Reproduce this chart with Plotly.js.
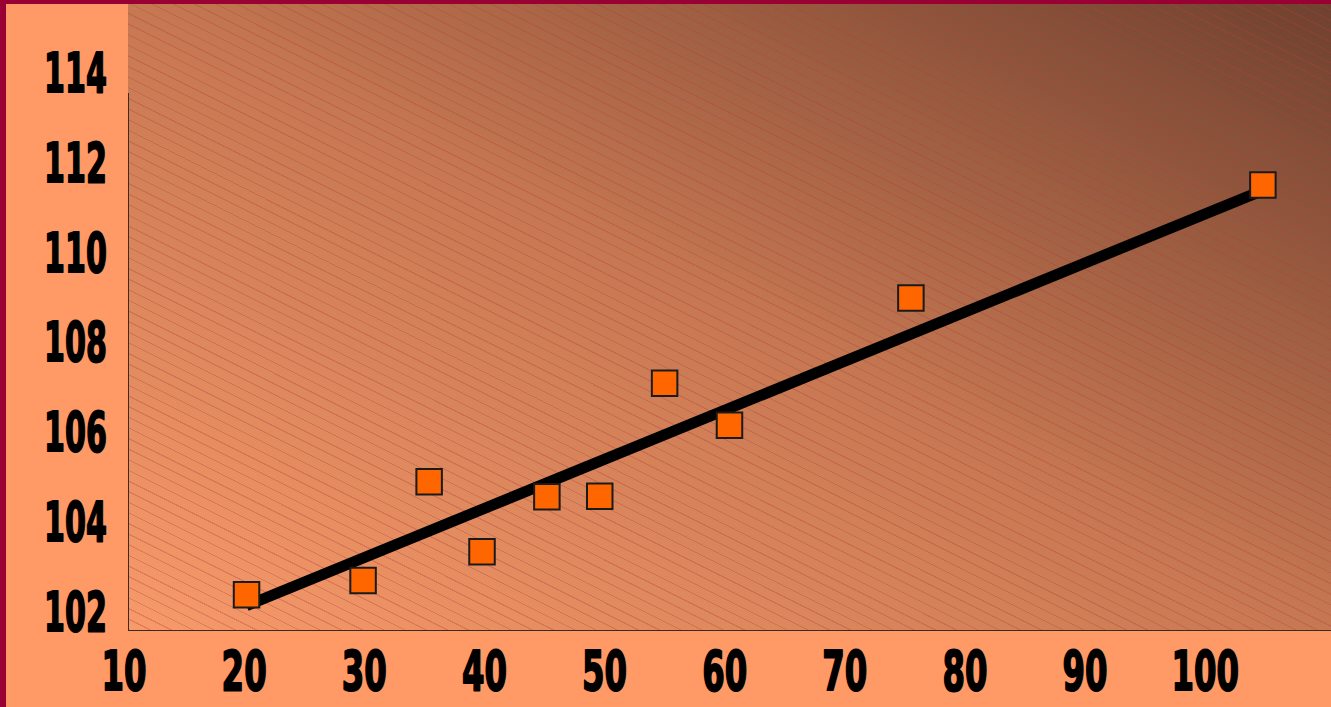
<!DOCTYPE html>
<html>
<head>
<meta charset="utf-8">
<script src="https://cdn.plot.ly/plotly-3.0.1.min.js"></script>
<style>
  html, body { margin: 0; padding: 0; background: #990033; overflow: hidden; }
  #wrap { position: relative; width: 1331px; height: 707px; background: #990033; }
  #paper { position: absolute; left: 6px; top: 4px; width: 1325px; height: 703px; background: #FF9966; }
  #plotbg { position: absolute; left: 128px; top: 4px; width: 1203px; height: 627px;
    background:
      repeating-linear-gradient(26.6deg, rgba(185,60,60,0.32) 0px, rgba(185,60,60,0.32) 1px, rgba(0,0,0,0) 1.2px, rgba(0,0,0,0) 9.5px),
      linear-gradient(to top right, #f89a6a 0%, #c67852 50%, #6f412f 100%);
    border-bottom: 1px solid #3b2a22; box-sizing: border-box; }
  #yline { position: absolute; left: 128px; top: 93px; width: 1px; height: 538px; background: #3b2a22; }
  #chart { position: absolute; left: 0; top: 0; width: 1331px; height: 707px; }
</style>
</head>
<body>
<div id="wrap">
  <div id="paper"></div>
  <div id="plotbg"></div>
  <div id="yline"></div>
  <div id="chart"></div>
</div>
<script>
const xValues = [20.2, 29.9, 35.4, 39.8, 45.2, 49.6, 55.0, 60.4, 75.5, 104.8];
const yValues = [102.36, 102.68, 104.88, 103.32, 104.55, 104.56, 107.08, 106.14, 108.98, 111.50];
// Trend line end points
const trendX = [20.2, 104.8];
const trendY = [102.12, 111.38];
// Axis tick labels
const xTicks = [10, 20, 30, 40, 50, 60, 70, 80, 90, 100];
const yTicks = [102, 104, 106, 108, 110, 112, 114];

const tickFont = { family: '"DejaVu Sans Condensed", "DejaVu Sans", sans-serif', size: 50, color: '#000000', weight: 'bold' };

const traces = [
  {
    x: trendX, y: trendY, type: 'scatter', mode: 'lines',
    line: { color: '#000000', width: 11 }, hoverinfo: 'skip', showlegend: false
  },
  {
    x: xValues, y: yValues, type: 'scatter', mode: 'markers',
    marker: { symbol: 'square', size: 25.5, color: '#FF6600', line: { color: '#1a1a1a', width: 2 } },
    showlegend: false
  }
];

const layout = {
  width: 1331, height: 707,
  margin: { l: 124, r: 0, t: 4, b: 76, pad: 0 },
  paper_bgcolor: 'rgba(0,0,0,0)',
  plot_bgcolor: 'rgba(0,0,0,0)',
  showlegend: false,
  xaxis: {
    range: [10, 110.47], tickmode: 'array', tickvals: xTicks, ticktext: xTicks.map(String),
    showgrid: false, zeroline: false, showline: false, ticks: '',
    ticklabelstandoff: 6, tickfont: tickFont, fixedrange: true
  },
  yaxis: {
    range: [101.554, 115.534], tickmode: 'array', tickvals: yTicks, ticktext: yTicks.map(String),
    showgrid: false, zeroline: false, showline: false, ticks: '',
    ticklabelstandoff: 16, tickfont: tickFont, fixedrange: true
  }
};

// Condense tick labels to imitate a heavy narrow display face
function condense(selector, sx, sy, anchorRight) {
  document.querySelectorAll(selector).forEach(function (t) {
    const b = t.getBBox();
    const cx = anchorRight ? b.x + b.width : b.x + b.width / 2;
    const cy = b.y + b.height / 2;
    const prev = t.getAttribute('transform') || '';
    t.setAttribute('transform', prev + ' translate(' + cx + ',' + cy + ') scale(' + sx + ',' + sy + ') translate(' + (-cx) + ',' + (-cy) + ')');
    t.style.stroke = '#000';
    t.style.strokeWidth = '1.6px';
    t.style.strokeLinejoin = 'round';
  });
}

Plotly.newPlot('chart', traces, layout, { staticPlot: true, displayModeBar: false }).then(function () {
  condense('.xtick text', 0.72, 1.12, false);
  condense('.ytick text', 0.67, 1.12, true);
});
</script>
</body>
</html>
